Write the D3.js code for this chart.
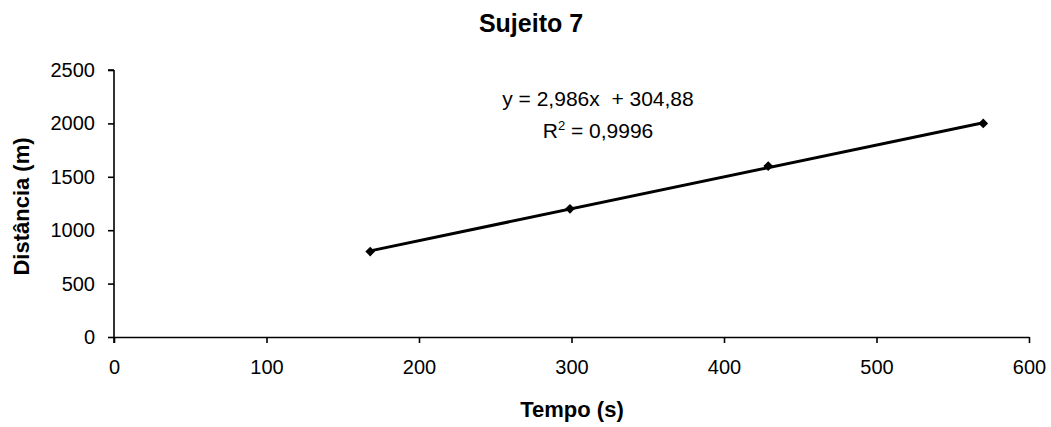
<!DOCTYPE html>
<html lang="pt">
<head>
    <meta charset="UTF-8">
    <title>Sujeito 7</title>
    <script src="https://d3js.org/d3.v7.min.js"></script>
    <style>
        body { margin: 0; background: #fff; }
        svg text { font-family: "Liberation Sans", Arial, sans-serif; fill: #000; }
        .tick text { font-size: 20px; }
        .tick line, .domain { stroke: #000; stroke-width: 1.6px; }
    </style>
</head>
<body>
    <svg id="chart" width="1051" height="427"></svg>
    <script>
        // measured points (tempo s, distancia m)
        const tempo = [168, 299, 429, 570];
        const distancia = [800, 1200, 1600, 2000];
        const xTicks = [0, 100, 200, 300, 400, 500, 600];
        const yTicks = [0, 500, 1000, 1500, 2000, 2500];
        const slope = 2.986, intercept = 304.88;
        const eqText = 'y = 2,986x  + 304,88';
        const r2Text = '0,9996';

        const svg = d3.select('#chart');
        const x = d3.scaleLinear().domain([0, 600]).range([114, 1029]);
        const y = d3.scaleLinear().domain([0, 2500]).range([337, 70]);

        svg.append('g')
            .attr('transform', `translate(0,${y(0)})`)
            .call(d3.axisBottom(x).tickValues(xTicks).tickFormat(d3.format('d'))
                .tickSize(6).tickPadding(16).tickSizeOuter(0))
            .call(g => g.selectAll('.tick text').attr('dy', '0.75em'));

        svg.append('g')
            .attr('transform', `translate(${x(0)},0)`)
            .call(d3.axisLeft(y).tickValues(yTicks).tickFormat(d3.format('d'))
                .tickSize(6).tickPadding(13).tickSizeOuter(0))
            .call(g => g.select('.domain').attr('d', `M0,${y(2500)}H-6M0,${y(2500)}V${y(0) + 6}`));

        // trend line
        const x0 = d3.min(tempo), x1 = d3.max(tempo);
        svg.append('line')
            .attr('x1', x(x0)).attr('y1', y(slope * x0 + intercept))
            .attr('x2', x(x1)).attr('y2', y(slope * x1 + intercept))
            .attr('stroke', '#000').attr('stroke-width', 3);

        svg.selectAll('.pt')
            .data(tempo.map((t, i) => [t, distancia[i]]))
            .join('path')
            .attr('class', 'pt')
            .attr('d', d3.symbol(d3.symbolDiamond2, 60))
            .attr('transform', d => `translate(${x(d[0])},${y(d[1])})`)
            .attr('fill', '#000');

        svg.append('text')
            .attr('x', 531).attr('y', 32)
            .attr('text-anchor', 'middle')
            .style('font-size', '25px').style('font-weight', 'bold')
            .text('Sujeito 7');

        svg.append('text')
            .attr('x', 598).attr('y', 106)
            .attr('text-anchor', 'middle')
            .style('font-size', '21px')
            .style('white-space', 'pre')
            .text(eqText);

        const r2 = svg.append('text')
            .attr('x', 598).attr('y', 138)
            .attr('text-anchor', 'middle')
            .style('font-size', '21px');
        r2.append('tspan').text('R');
        r2.append('tspan').attr('dy', -8).style('font-size', '13px').text('2');
        r2.append('tspan').attr('dy', 8).text(' = ' + r2Text);

        svg.append('text')
            .attr('x', 572).attr('y', 417)
            .attr('text-anchor', 'middle')
            .style('font-size', '22px').style('font-weight', 'bold')
            .text('Tempo (s)');

        svg.append('text')
            .attr('transform', `translate(29,${(y(0) + y(2500)) / 2 + 3}) rotate(-90)`)
            .attr('text-anchor', 'middle')
            .style('font-size', '22px').style('font-weight', 'bold')
            .text('Distância (m)');
    </script>
</body>
</html>
